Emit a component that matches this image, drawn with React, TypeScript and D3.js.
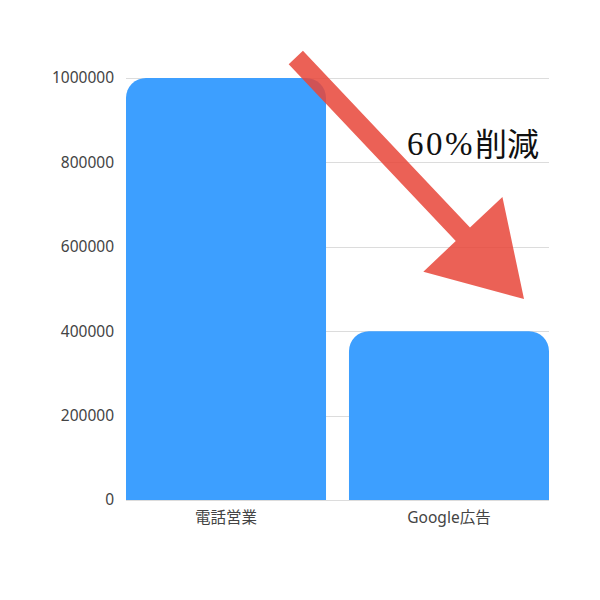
import React, { useEffect, useRef } from 'react';
import * as d3 from 'd3';

const categories = ['電話営業', 'Google広告'];
const costs = [1000000, 400000];
const yTicks = [0, 200000, 400000, 600000, 800000, 1000000];
const annotationNum = '60%';
const annotationWord = '削減';
// arrow from above bar 1 down to the level of bar 2 (value units, fraction of bandwidth)
const arrowFrom = { cat: 0, frac: 0.849, value: 1048600 };
const arrowTo = { cat: 1, frac: 0.875, value: 476300 };

const App = () => {
  const ref = useRef<SVGSVGElement | null>(null);

  useEffect(() => {
    if (!ref.current) return;
    const svg = d3.select(ref.current);
    svg.selectAll('*').remove();

    const margin = { top: 78, right: 51, bottom: 100, left: 126 };
    const width = 600 - margin.left - margin.right;
    const height = 600 - margin.top - margin.bottom;

    const x = d3
      .scaleBand<string>()
      .domain(categories)
      .range([0, width])
      .paddingInner(0.103)
      .paddingOuter(0);
    const y = d3.scaleLinear().domain([0, 1000000]).range([height, 0]);

    const g = svg
      .append('g')
      .attr('transform', `translate(${margin.left},${margin.top})`);

    // grid lines
    g.selectAll('.grid')
      .data(yTicks)
      .enter()
      .append('line')
      .attr('x1', 0)
      .attr('x2', width)
      .attr('y1', (d) => Math.round(y(d)) + 0.5)
      .attr('y2', (d) => Math.round(y(d)) + 0.5)
      .attr('stroke', '#dcdcdc')
      .attr('stroke-width', 1);

    // y tick labels
    g.selectAll('.ytick')
      .data(yTicks)
      .enter()
      .append('text')
      .attr('x', -12)
      .attr('y', (d) => y(d))
      .attr('dy', '0.35em')
      .attr('text-anchor', 'end')
      .attr('fill', '#444')
      .style('font-family', '"Noto Sans", sans-serif')
      .style('font-size', '15.5px')
      .text((d) => String(d));

    // bars with rounded tops
    const r = 20;
    const barPath = (x0: number, w: number, yTop: number, yBot: number) => {
      const p = d3.path();
      p.moveTo(x0, yBot);
      p.lineTo(x0, yTop + r);
      p.arcTo(x0, yTop, x0 + r, yTop, r);
      p.lineTo(x0 + w - r, yTop);
      p.arcTo(x0 + w, yTop, x0 + w, yTop + r, r);
      p.lineTo(x0 + w, yBot);
      p.closePath();
      return p.toString();
    };

    g.selectAll('.bar')
      .data(categories)
      .enter()
      .append('path')
      .attr('d', (c, i) =>
        barPath(x(c)!, x.bandwidth(), y(costs[i]), y(0))
      )
      .attr('fill', '#3d9fff');

    // x labels
    g.selectAll('.xlabel')
      .data(categories)
      .enter()
      .append('text')
      .attr('x', (c) => x(c)! + x.bandwidth() / 2)
      .attr('y', height + 23)
      .attr('text-anchor', 'middle')
      .attr('fill', '#444')
      .style('font-family', '"Noto Sans", "Noto Sans CJK JP", sans-serif')
      .style('font-size', '15.5px')
      .text((c) => c);

    // arrow annotation
    const sx = x(categories[arrowFrom.cat])! + x.bandwidth() * arrowFrom.frac;
    const sy = y(arrowFrom.value);
    const tx = x(categories[arrowTo.cat])! + x.bandwidth() * arrowTo.frac;
    const ty = y(arrowTo.value);
    const len = Math.hypot(tx - sx, ty - sy);
    const headLen = 89;
    const headHalf = 54.4;
    const shaftHalf = 9.8;
    const angle = (Math.atan2(ty - sy, tx - sx) * 180) / Math.PI;
    const arrowPts: [number, number][] = [
      [0, -shaftHalf],
      [len - headLen, -shaftHalf],
      [len - headLen, -headHalf],
      [len, 0],
      [len - headLen, headHalf],
      [len - headLen, shaftHalf],
      [0, shaftHalf],
    ];
    g.append('polygon')
      .attr('points', arrowPts.map((p) => p.join(',')).join(' '))
      .attr('transform', `translate(${sx},${sy}) rotate(${angle})`)
      .attr('fill', '#e8473a')
      .attr('fill-opacity', 0.86);

    // annotation text: serif numbers, CJK word as a separate run
    const baseY = 154.5 - margin.top;
    const num = g
      .append('text')
      .attr('x', 407 - margin.left)
      .attr('y', baseY)
      .attr('fill', '#111')
      .style('font-family', '"Liberation Serif", serif')
      .style('font-size', '33px')
      .style('letter-spacing', '2.5px')
      .text(annotationNum);
    const numW = (num.node() as SVGTextElement).getComputedTextLength();
    g.append('text')
      .attr('x', 407 - margin.left + numW)
      .attr('y', baseY + 1)
      .attr('fill', '#111')
      .style('font-family', '"Noto Sans CJK JP", sans-serif')
      .style('font-size', '32px')
      .text(annotationWord);
  }, []);

  return (
    <svg
      ref={ref}
      width={600}
      height={600}
      style={{ position: 'absolute', left: 0, top: 0, background: '#fff' }}
    />
  );
};

export default App;
